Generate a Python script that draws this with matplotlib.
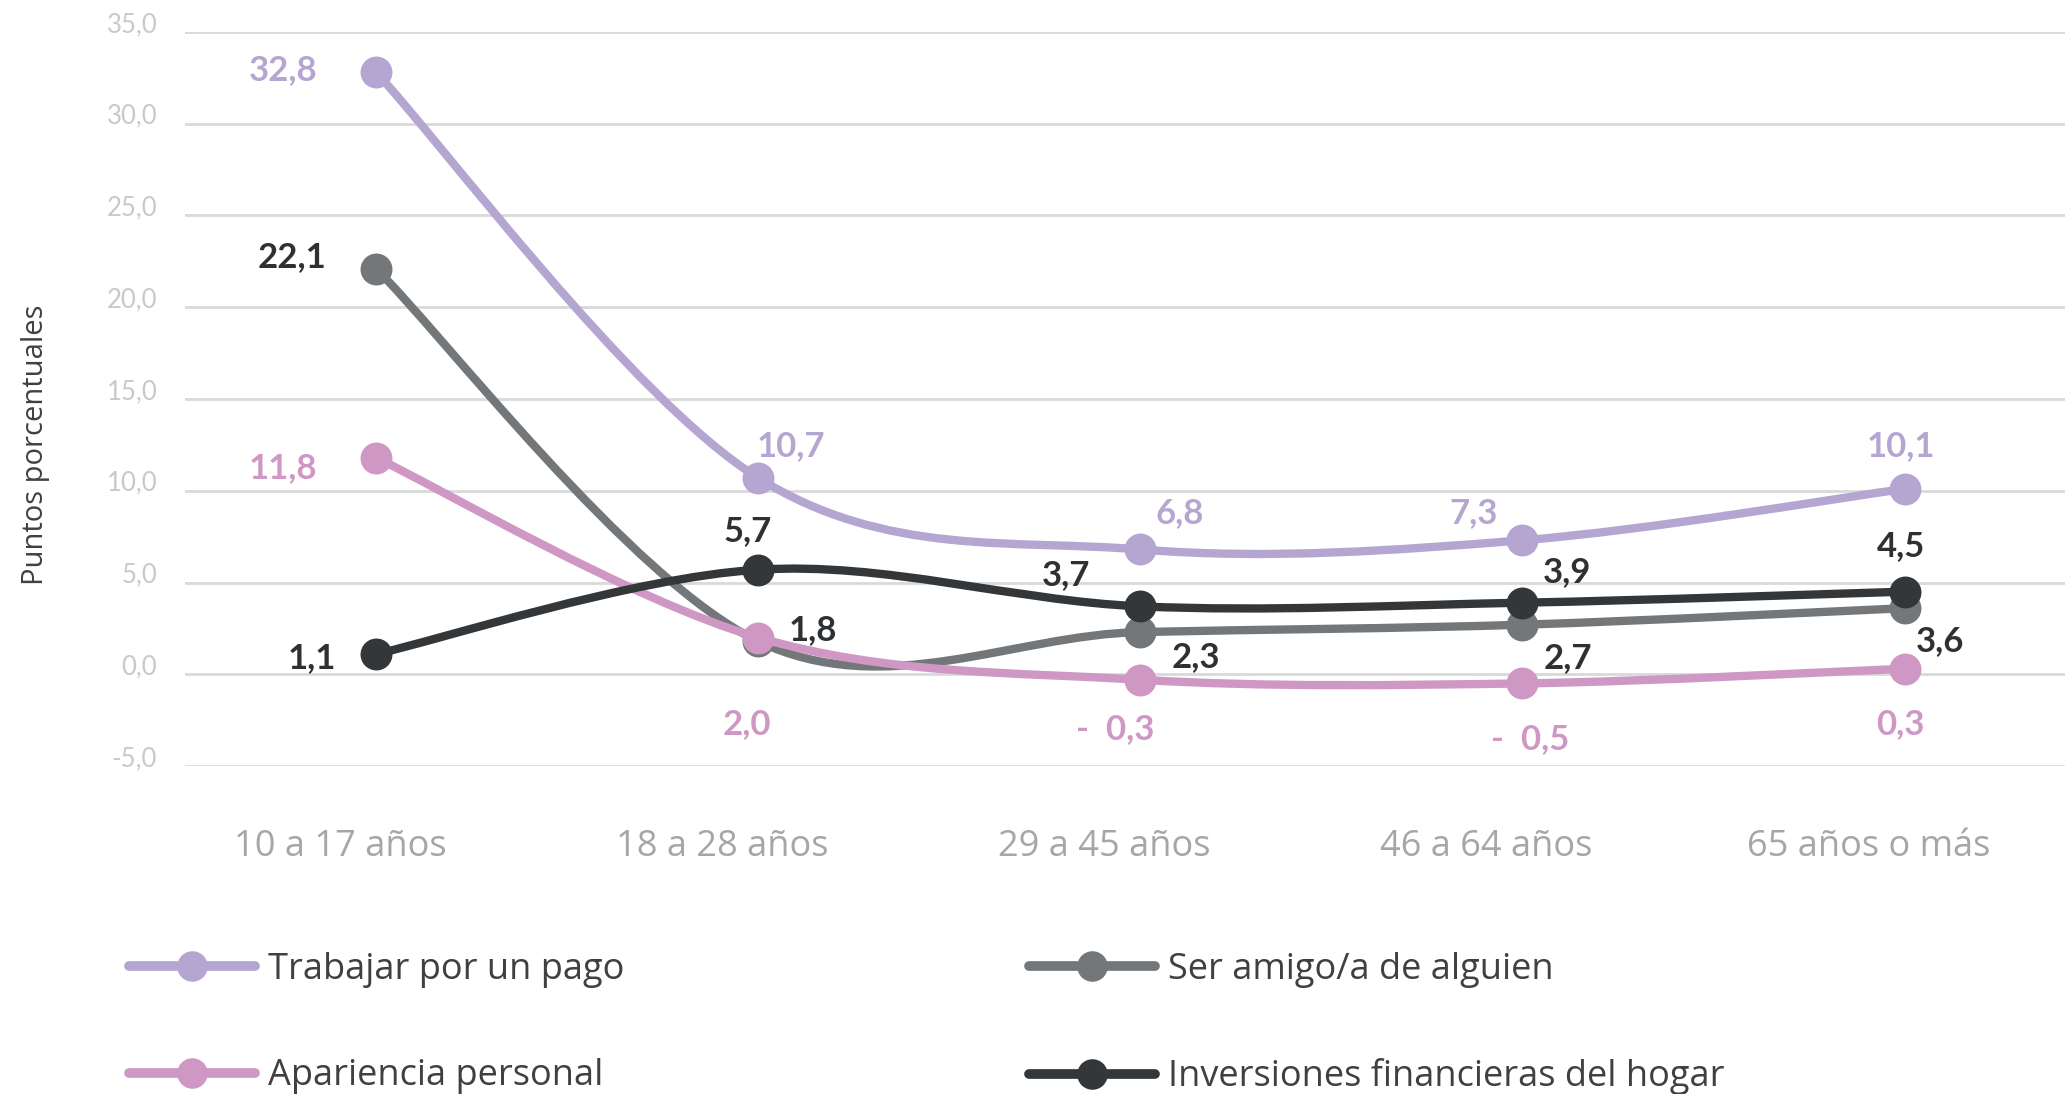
import numpy as np
import matplotlib
matplotlib.use('Agg')
import matplotlib.pyplot as plt
from matplotlib.path import Path
from matplotlib.patches import PathPatch
from matplotlib.lines import Line2D
from matplotlib.transforms import ScaledTranslation

categories = ['10 a 17 años', '18 a 28 años', '29 a 45 años', '46 a 64 años', '65 años o más']
trabajar = [32.8, 10.7, 6.8, 7.3, 10.1]
amigo = [22.1, 1.8, 2.3, 2.7, 3.6]
apariencia = [11.8, 2.0, -0.3, -0.5, 0.3]
inversiones = [1.1, 5.7, 3.7, 3.9, 4.5]
names = ['Trabajar por un pago', 'Ser amigo/a de alguien',
         'Apariencia personal', 'Inversiones financieras del hogar']
yticks = np.arange(-5, 36, 5)

colors = ['#b5a6d1', '#747779', '#cf97c4', '#33373a']
label_colors = ['#b5a6d1', '#2e3134', '#cf97c4', '#2e3134']
# label offsets in pixels (dx, dy) for each point
offsets = [
    [(-93, 2), (33, 32), (39, 36), (-49, 27), (-4, 43)],
    [(-84, 12), (55, 11), (56, -25), (45, -33), (35, -33)],
    [(-93, -10), (-11, -86), (-25, -49), (8, -56), (-4, -55)],
    [(-64, -4), (-11, 39), (-74, 31), (45, 31), (-4, 46)],
]


def smooth_path(xs, ys):
    pts = np.column_stack([xs, ys]).astype(float)
    n = len(pts)
    verts = [pts[0]]
    codes = [Path.MOVETO]
    for i in range(n - 1):
        p0 = pts[max(i - 1, 0)]
        p1 = pts[i]
        p2 = pts[i + 1]
        p3 = pts[min(i + 2, n - 1)]
        verts += [p1 + (p2 - p0) / 6, p2 - (p3 - p1) / 6, p2]
        codes += [Path.CURVE4] * 3
    return Path(verts, codes)


def fmt(v):
    s = f'{abs(v):.1f}'.replace('.', ',')
    return '-  ' + s if v < 0 else s


fig = plt.figure(figsize=(20.68, 10.94), dpi=100)
ax = fig.add_axes([185 / 2068, 1 - 766 / 1094, (2065 - 185) / 2068, (766 - 32) / 1094])

x = np.arange(len(categories))
for k, vals in enumerate([trabajar, amigo, apariencia, inversiones]):
    patch = PathPatch(smooth_path(x, vals), fill=False, edgecolor=colors[k],
                      lw=6, capstyle='round', joinstyle='round', zorder=3 + k)
    ax.add_patch(patch)
    ax.plot(x, vals, 'o', color=colors[k], ms=23, mew=0, zorder=3 + k)
    for i, v in enumerate(vals):
        ax.annotate(fmt(v), (x[i], v), xytext=offsets[k][i], textcoords='offset pixels',
                    ha='center', va='center', fontsize=25, fontweight='bold',
                    family='Lato', color=label_colors[k], zorder=10)

ax.set_xlim(-0.5, 4.42)
ax.set_ylim(-5, 35)
ax.set_yticks(yticks)
ax.set_yticklabels([f'{t:.1f}'.replace('.', ',') for t in yticks],
                   family='Lato', fontsize=18.5, color='#c9c9c9')
for lbl in ax.get_yticklabels():
    lbl.set_va('baseline')
ax.tick_params(axis='y', length=0, pad=20)
ax.grid(axis='y', color='#d9d9d9', lw=2)
ax.set_axisbelow(True)
ax.set_xticks(x)
ax.set_xticklabels(categories, family='Open Sans', fontsize=26, color='#a6a6a6')
ax.tick_params(axis='x', length=0, pad=45)
for lbl in ax.get_xticklabels():
    lbl.set_transform(lbl.get_transform() + ScaledTranslation(-0.36, 0, fig.dpi_scale_trans))
for s in ax.spines.values():
    s.set_visible(False)

fig.text(36 / 2068, 1 - 445 / 1094, 'Puntos porcentuales', rotation=90, ha='center', va='center',
         family='Open Sans', fontsize=21, color='#404040')

handles = [Line2D([], [], color=colors[k], lw=7, marker='o', ms=22, mew=0,
                  solid_capstyle='round') for k in range(4)]
order = [0, 2, 1, 3]
fig.legend([handles[k] for k in order], [names[k] for k in order], ncol=2,
           loc='upper left', bbox_to_anchor=(129 / 2068, 1 - 952 / 1094),
           frameon=False, borderpad=0, borderaxespad=0, handlelength=3.5,
           handletextpad=0.35, columnspacing=11.2, labelspacing=1.95,
           prop={'family': 'Open Sans', 'size': 26}, labelcolor='#404040')

fig.savefig('out.png', dpi=100)
